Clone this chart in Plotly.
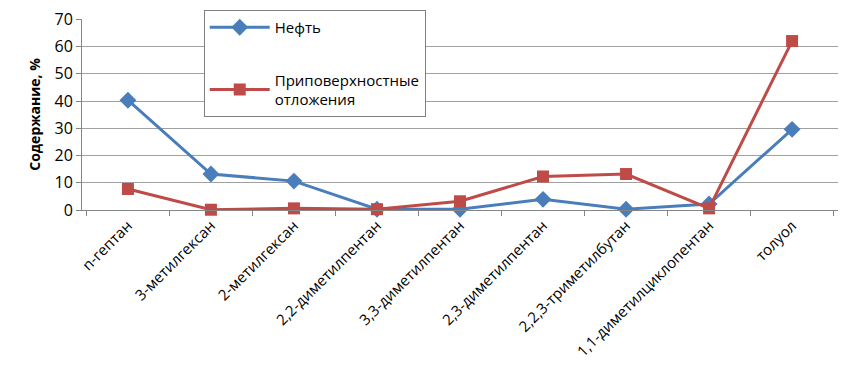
import plotly.graph_objects as go

categories = ["n-гептан", "3-метилгексан", "2-метилгексан", "2,2-диметилпентан",
              "3,3-диметилпентан", "2,3-диметилпентан", "2,2,3-триметилбутан",
              "1,1-диметилциклопентан", "толуол"]
oil = [40.3, 13.2, 10.6, 0.3, 0.3, 3.9, 0.3, 2.2, 29.6]
surface = [7.7, 0.1, 0.6, 0.3, 3.2, 12.3, 13.2, 0.6, 62.0]
y_ticks = [0, 10, 20, 30, 40, 50, 60, 70]

fig = go.Figure()
fig.add_trace(go.Scatter(
    x=categories, y=oil, name="Нефть", mode="lines+markers",
    line=dict(color="#4A7EBB", width=3),
    marker=dict(symbol="diamond", size=13, color="#4A7EBB"),
    legendgroup="a", cliponaxis=False))
fig.add_trace(go.Scatter(
    x=categories, y=surface, name="Приповерхностные<br>отложения", mode="lines+markers",
    line=dict(color="#BE4B48", width=3),
    marker=dict(symbol="square", size=12, color="#BE4B48"),
    legendgroup="b", cliponaxis=False))

fig.update_layout(
    width=851, height=378,
    margin=dict(l=74, r=21, t=11, b=176, autoexpand=False),
    paper_bgcolor="white", plot_bgcolor="white",
    font=dict(family="Open Sans, Liberation Sans, sans-serif", size=13, color="black"),
    showlegend=True,
    legend=dict(x=0.161, y=1.047, xanchor="left", yanchor="top",
                bgcolor="white", bordercolor="#808080", borderwidth=1,
                font=dict(size=15), tracegroupgap=30, itemwidth=60),
    xaxis=dict(type="category", tickangle=-45, showgrid=False, automargin=False,
               showline=True, linecolor="#868686", linewidth=1,
               ticks="outside", tickson="boundaries", ticklen=5, tickcolor="#868686",
               tickfont=dict(size=15), ticklabeloverflow="allow"),
    yaxis=dict(range=[0, 70.1], tickvals=y_ticks, showgrid=True, gridcolor="#A0A0A0",
               showline=True, linecolor="#868686", ticks="outside", ticklen=5,
               automargin=False, ticklabeloverflow="allow",
               tickcolor="#868686", zeroline=False, tickfont=dict(size=16),
               title=dict(text="<b>Содержание, %</b>", font=dict(size=14), standoff=10)),
)
fig.write_html("out.html")
